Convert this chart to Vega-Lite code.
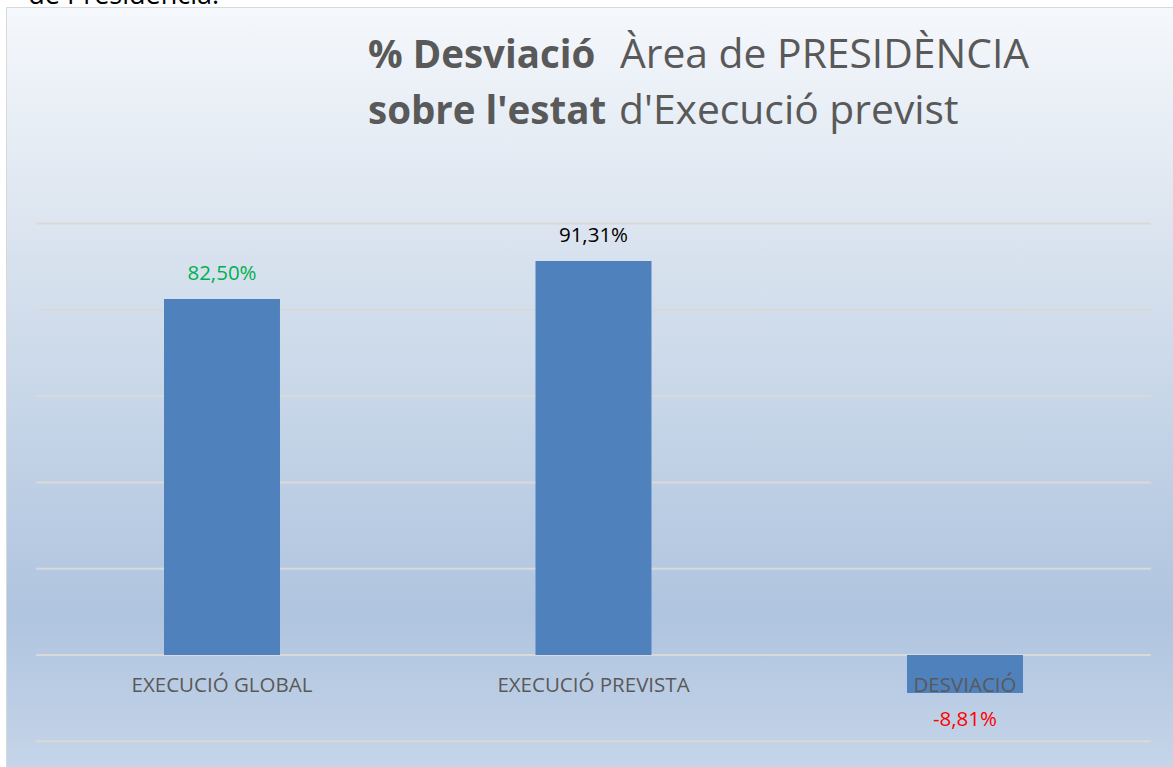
{
  "$schema": "https://vega.github.io/schema/vega-lite/v6.json",
  "width": 1167,
  "height": 760,
  "autosize": {"type": "none"},
  "padding": {"left": 6, "top": 7, "right": 0, "bottom": 0},
  "background": "#ffffff",
  "config": {
    "view": {
      "fill": {
        "gradient": "linear",
        "x1": 0, "y1": 0, "x2": 0, "y2": 1,
        "stops": [
          {"offset": 0, "color": "#f5f8fc"},
          {"offset": 0.25, "color": "#dfe7f1"},
          {"offset": 0.52, "color": "#c7d6e8"},
          {"offset": 0.8, "color": "#afc4df"},
          {"offset": 1, "color": "#c5d5e9"}
        ]
      },
      "stroke": "#d9d9d9",
      "strokeWidth": 1
    },
    "axis": {"disable": true},
    "locale": {
      "number": {"decimal": ",", "thousands": ".", "grouping": [3], "currency": ["", " €"], "minus": "-"}
    },
    "text": {"font": "Open Sans"}
  },
  "datasets": {
    "barres": [
      {"categoria": "EXECUCIÓ GLOBAL", "valor": 0.825},
      {"categoria": "EXECUCIÓ PREVISTA", "valor": 0.9131},
      {"categoria": "DESVIACIÓ", "valor": -0.0881}
    ],
    "graella": [
      {"g": -0.2}, {"g": 0}, {"g": 0.2}, {"g": 0.4}, {"g": 0.6}, {"g": 0.8}, {"g": 1.0}
    ]
  },
  "layer": [
    {
      "data": {"name": "graella"},
      "mark": {"type": "rule", "color": "#d9d9d9", "strokeWidth": 2},
      "encoding": {
        "y": {
          "field": "g", "type": "quantitative",
          "scale": {"domain": [-0.2596, 1.5017], "nice": false, "zero": false},
          "axis": null
        },
        "x": {
          "datum": "EXECUCIÓ GLOBAL", "type": "nominal", "bandPosition": 0,
          "scale": {
            "type": "band",
            "domain": ["EXECUCIÓ GLOBAL", "EXECUCIÓ PREVISTA", "DESVIACIÓ"],
            "paddingInner": 0,
            "paddingOuter": 0.07066,
            "align": 0.576
          },
          "axis": null
        },
        "x2": {"datum": "DESVIACIÓ", "bandPosition": 1}
      }
    },
    {
      "data": {"name": "barres"},
      "mark": {"type": "bar", "color": "#4f81bd", "width": {"band": 0.3122}},
      "encoding": {
        "x": {"field": "categoria", "type": "nominal", "axis": null},
        "y": {"field": "valor", "type": "quantitative", "axis": null}
      }
    },
    {
      "data": {"name": "barres"},
      "mark": {"type": "text", "fontSize": 20.5, "color": "#595959", "baseline": "middle", "dy": 31},
      "encoding": {
        "x": {"field": "categoria", "type": "nominal"},
        "y": {"datum": 0, "type": "quantitative"},
        "text": {"field": "categoria", "type": "nominal"}
      }
    },
    {
      "data": {"name": "barres"},
      "transform": [{"filter": "datum.valor >= 0"}],
      "mark": {"type": "text", "fontSize": 20.5, "baseline": "middle", "dy": -25},
      "encoding": {
        "x": {"field": "categoria", "type": "nominal"},
        "y": {"field": "valor", "type": "quantitative"},
        "text": {"field": "valor", "type": "quantitative", "format": ".2%"},
        "color": {
          "field": "categoria", "type": "nominal",
          "scale": {"domain": ["EXECUCIÓ GLOBAL", "EXECUCIÓ PREVISTA", "DESVIACIÓ"], "range": ["#00b050", "#000000", "#ff0000"]},
          "legend": null
        }
      }
    },
    {
      "data": {"name": "barres"},
      "transform": [{"filter": "datum.valor < 0"}],
      "mark": {"type": "text", "fontSize": 20.5, "baseline": "middle", "dy": 27},
      "encoding": {
        "x": {"field": "categoria", "type": "nominal"},
        "y": {"field": "valor", "type": "quantitative"},
        "text": {"field": "valor", "type": "quantitative", "format": ".2%"},
        "color": {"field": "categoria", "type": "nominal", "legend": null}
      }
    },
    {
      "data": {"values": [{}]},
      "mark": {"type": "text", "fontSize": 38.5, "fontWeight": "bold", "color": "#595959", "align": "left", "baseline": "alphabetic"},
      "encoding": {
        "x": {"datum": "EXECUCIÓ GLOBAL", "type": "nominal", "bandPosition": 0.893},
        "y": {"datum": 1.3604, "type": "quantitative"},
        "text": {"value": "% Desviació"}
      }
    },
    {
      "data": {"values": [{}]},
      "mark": {"type": "text", "fontSize": 40.8, "color": "#595959", "align": "left", "baseline": "alphabetic"},
      "encoding": {
        "x": {"datum": "EXECUCIÓ PREVISTA", "type": "nominal", "bandPosition": 0.5713},
        "y": {"datum": 1.3604, "type": "quantitative"},
        "text": {"value": "Àrea de PRESIDÈNCIA"}
      }
    },
    {
      "data": {"values": [{}]},
      "mark": {"type": "text", "fontSize": 38.5, "fontWeight": "bold", "color": "#595959", "align": "left", "baseline": "alphabetic"},
      "encoding": {
        "x": {"datum": "EXECUCIÓ GLOBAL", "type": "nominal", "bandPosition": 0.893},
        "y": {"datum": 1.2306, "type": "quantitative"},
        "text": {"value": "sobre l'estat"}
      }
    },
    {
      "data": {"values": [{}]},
      "mark": {"type": "text", "fontSize": 40.8, "color": "#595959", "align": "left", "baseline": "alphabetic"},
      "encoding": {
        "x": {"datum": "EXECUCIÓ PREVISTA", "type": "nominal", "bandPosition": 0.5686},
        "y": {"datum": 1.2306, "type": "quantitative"},
        "text": {"value": "d'Execució previst"}
      }
    },
    {
      "data": {"values": [{}]},
      "mark": {"type": "text", "fontSize": 27, "color": "#000000", "align": "left", "baseline": "alphabetic", "dx": -8, "dy": -3},
      "encoding": {
        "x": {"datum": "EXECUCIÓ GLOBAL", "type": "nominal", "bandPosition": 0},
        "y": {"datum": 1.5017, "type": "quantitative"},
        "text": {"value": "de Presidència."}
      }
    }
  ]
}
